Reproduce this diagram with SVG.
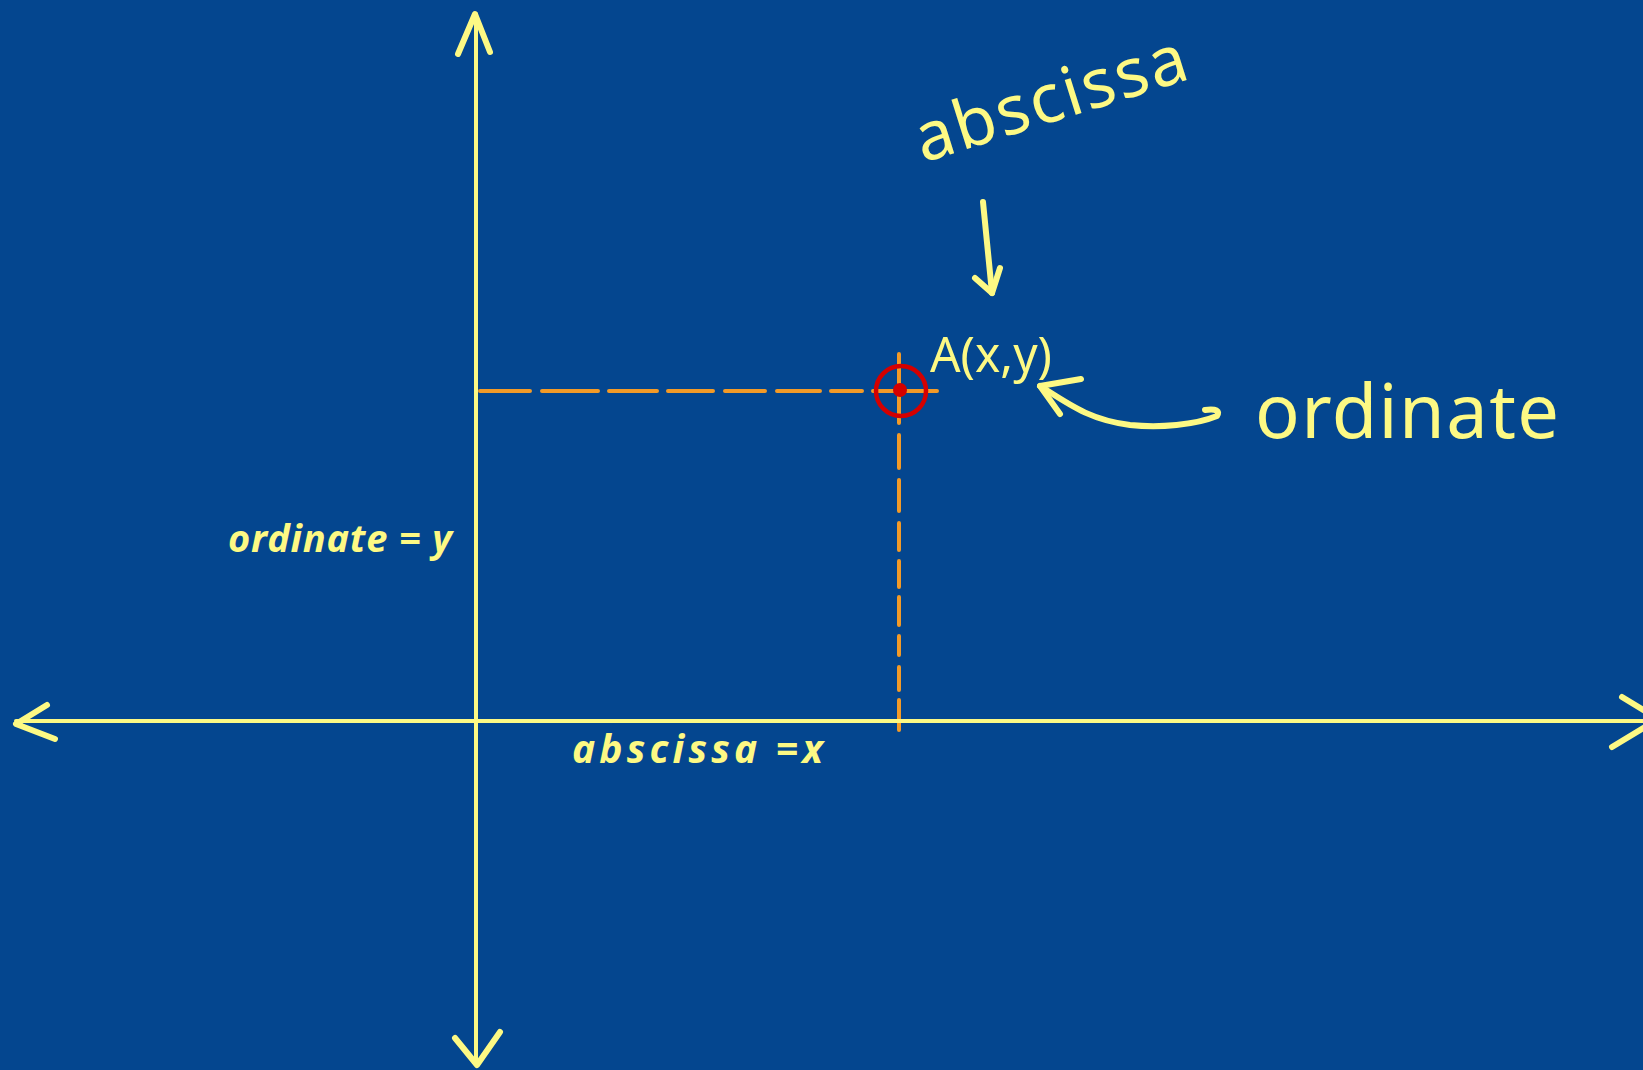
<svg xmlns="http://www.w3.org/2000/svg" width="1643" height="1070" viewBox="0 0 1643 1070">
<style>
.ax{stroke:#fdf984;stroke-width:4;fill:none;stroke-linecap:round;stroke-linejoin:round}
.ah{stroke:#fdf984;stroke-width:6;fill:none;stroke-linecap:round;stroke-linejoin:round}
.hand{stroke:#fdf984;stroke-width:6;fill:none;stroke-linecap:round;stroke-linejoin:round}
.dash{stroke:#f39a27;stroke-width:4;fill:none;stroke-linecap:round}
.big{font-family:"Noto Sans","DejaVu Sans",sans-serif;fill:#fdf984}
.small{font-family:"Noto Sans","DejaVu Sans",sans-serif;fill:#fdf984;font-style:italic;font-weight:bold}
</style>
<rect x="0" y="0" width="1643" height="1070" fill="#04468f"/>
<g id="connectors">
<path class="dash" d="M480,391 L530,391 M542,391 L598,391 M609,391 L657,391 M668,391 L713,391 M725,391 L765,391 M777,391 L820,391 M831,391 L862,391 M873,391 L937,391"/>
<path class="dash" d="M899,354 L899,423 M899,435 L899,468 M899,480 L899,511 M899,523 L899,550 M899,561 L899,587 M899,597 L899,625 M899,636 L899,655 M899,667 L899,690 M899,700 L899,730"/>
<path class="ax" d="M476,14 L476,1064"/>
<path class="ah" d="M458,54 L475,14 L490,52"/>
<path class="ah" d="M455,1038 L477,1065 L500,1032"/>
<path class="ax" d="M16,721 L1643,721"/>
<path class="ah" d="M47,705 L16,724 L55,739"/>
<path class="ah" d="M1622,697 L1650,714 M1612,747 L1650,724"/>
<path class="hand" d="M983,202 L992,293"/>
<path class="hand" d="M975,278 L992,293 L1000,268"/>
<path class="hand" d="M1205,410 Q1222,408 1217,416 C1195,425 1160,428 1130,425 C1090,420 1070,405 1040,386"/>
<path class="hand" d="M1081,379 L1040,386 L1060,414"/>
</g>
<g id="point-A">
<circle cx="901" cy="391" r="25" fill="none" stroke="#d40000" stroke-width="4.5"/>
<circle cx="900" cy="390" r="7" fill="#d40000"/>
<text class="big" x="930" y="372" font-size="50" textLength="122" lengthAdjust="spacingAndGlyphs">A(x,y)</text>
</g>
<g id="label-abscissa-top">
<text class="big" x="0" y="0" font-size="68" textLength="282" lengthAdjust="spacing" transform="translate(923,163) rotate(-17.5)">abscissa</text>
</g>
<g id="label-ordinate-right">
<text class="big" x="1255" y="438" font-size="74" textLength="304" lengthAdjust="spacing">ordinate</text>
</g>
<g id="label-ordinate-y">
<text class="small" x="228" y="552" font-size="38" textLength="224" lengthAdjust="spacing">ordinate = y</text>
</g>
<g id="label-abscissa-x">
<text class="small" x="572" y="763" font-size="39" textLength="251" lengthAdjust="spacing">abscissa =x</text>
</g>
</svg>
